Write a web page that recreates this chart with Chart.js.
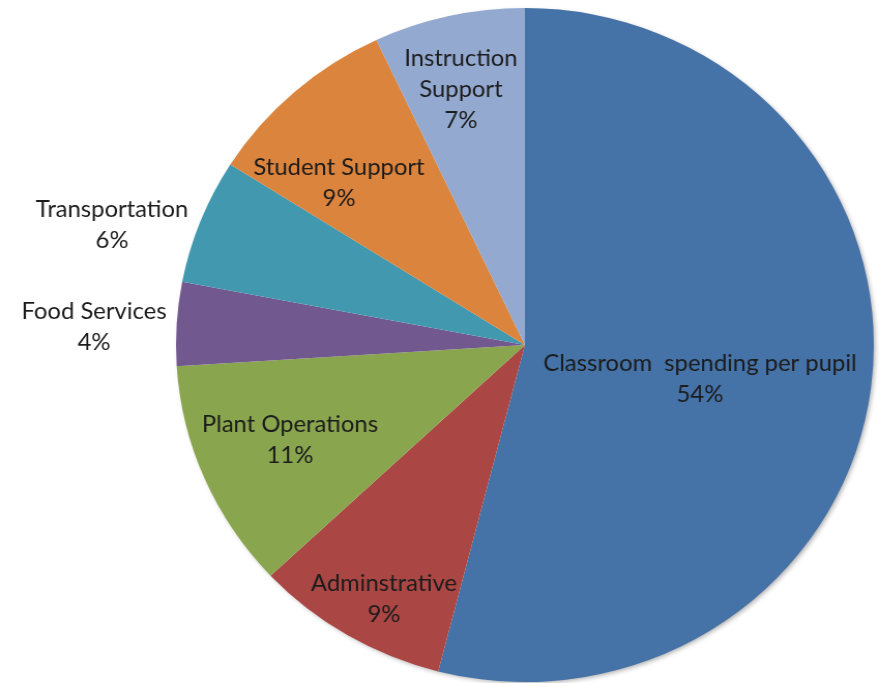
<!DOCTYPE html>
<html>
<head>
<meta charset="utf-8">
<title>Spending per pupil</title>
<script src="https://cdn.jsdelivr.net/npm/chart.js@4.4.0/dist/chart.umd.min.js"></script>
<style>
  html, body { margin: 0; padding: 0; background: #ffffff; }
  #pieChart { display: block; width: 879px; height: 683px; }
</style>
</head>
<body>
<canvas id="pieChart" width="849" height="683" style="width:879px;height:683px"></canvas>
<script>
// spending categories, clockwise from 12 o'clock
var categories = [
  'Classroom  spending per pupil',
  'Adminstrative',
  'Plant Operations',
  'Food Services',
  'Transportation',
  'Student Support',
  ['Instruction', 'Support']
];
var percents = [54, 9, 11, 4, 6, 9, 7];
var sliceColors = ['#4572A7', '#AA4643', '#89A54E', '#71588F', '#4198AF', '#DB843D', '#93A9CF'];

// label placement: [angle shift in degrees, distance as share of radius]
var labelPlacement = [[4.3, 0.512], [-2.4, 0.855], [0.7, 0.73], [-1.2, 1.236], [-4.8, 1.236], [-6.6, 0.717], [-1, 0.78]];

// soft drop shadow under the whole pie
var pieShadow = {
  id: 'pieShadow',
  beforeDatasetsDraw: function (chart) {
    var arc = chart.getDatasetMeta(0).data[0];
    if (!arc) return;
    var ctx = chart.ctx;
    ctx.save();
    ctx.shadowColor = 'rgba(0,0,0,0.35)';
    ctx.shadowBlur = 5;
    ctx.shadowOffsetX = 2;
    ctx.shadowOffsetY = 2;
    ctx.fillStyle = '#ffffff';
    ctx.beginPath();
    ctx.arc(arc.x, arc.y, arc.outerRadius - 1, 0, Math.PI * 2);
    ctx.fill();
    ctx.restore();
  }
};

// category name + percent drawn on/next to each slice
var sliceLabels = {
  id: 'sliceLabels',
  afterDatasetsDraw: function (chart) {
    var ctx = chart.ctx;
    var arcs = chart.getDatasetMeta(0).data;
    var values = chart.data.datasets[0].data;
    ctx.save();
    ctx.font = '23px Lato, "Open Sans", sans-serif';
    ctx.fillStyle = '#1c1c1c';
    ctx.textAlign = 'center';
    ctx.textBaseline = 'middle';
    arcs.forEach(function (arc, i) {
      var place = labelPlacement[i];
      var mid = (arc.startAngle + arc.endAngle) / 2 + place[0] * Math.PI / 180;
      var r = arc.outerRadius * place[1];
      var x = arc.x + Math.cos(mid) * r;
      var y = arc.y + Math.sin(mid) * r;
      var lines = [].concat(chart.data.labels[i], values[i] + '%');
      var lineH = 31;
      var top = y - (lines.length - 1) * lineH / 2;
      lines.forEach(function (txt, j) {
        ctx.fillText(txt, x, top + j * lineH);
      });
    });
    ctx.restore();
  }
};

var pieCtx = document.getElementById('pieChart').getContext('2d');
var pieChart = new Chart(pieCtx, {
  type: 'pie',
  data: {
    labels: categories,
    datasets: [{
      data: percents,
      backgroundColor: sliceColors,
      borderWidth: 0
    }]
  },
  options: {
    responsive: false,
    animation: false,
    layout: { padding: { left: 170, right: 5, top: 8, bottom: 1 } },
    plugins: {
      legend: { display: false },
      tooltip: { enabled: false }
    }
  },
  plugins: [pieShadow, sliceLabels]
});
</script>
</body>
</html>
